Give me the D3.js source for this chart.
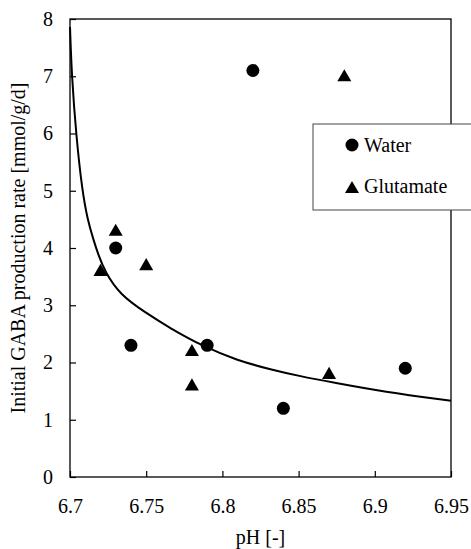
<!DOCTYPE html>
<html>
<head>
<meta charset="utf-8">
<script src="https://cdn.jsdelivr.net/npm/d3@7"></script>
</head>
<body style="margin:0">
<svg id="chart" width="471" height="549"></svg>
<script>
// ---- data ----
const waterPH   = [6.73, 6.74, 6.79, 6.82, 6.84, 6.92];
const waterRate = [4.0, 2.3, 2.3, 7.1, 1.2, 1.9];
const gluPH     = [6.72, 6.73, 6.75, 6.78, 6.78, 6.87, 6.88];
const gluRate   = [3.6, 4.3, 3.7, 2.2, 1.6, 1.8, 7.0];
const fitPH   = [6.7000, 6.7011, 6.7041, 6.7080, 6.7115, 6.7153, 6.7186, 6.7230, 6.7330, 6.7490, 6.7656, 6.7875, 6.8094, 6.8312, 6.8509, 6.8728, 6.9056, 6.9500];
const fitRate = [7.86, 7.02, 5.95, 5.00, 4.50, 4.15, 3.88, 3.58, 3.18, 2.88, 2.60, 2.28, 2.04, 1.88, 1.76, 1.65, 1.49, 1.33];
const xTicks = [6.7, 6.75, 6.8, 6.85, 6.9, 6.95];
const xTickLabels = ["6.7", "6.75", "6.8", "6.85", "6.9", "6.95"];
const yTicks = [0, 1, 2, 3, 4, 5, 6, 7, 8];
const legendLabels = ["Water", "Glutamate"];
const xTitle = "pH [-]";
const yTitle = "Initial GABA production rate [mmol/g/d]";

// ---- layout ----
const FONT = '"Liberation Serif"';
const L = 70, R = 451, T = 19, B = 477;
const svg = d3.select("#chart");
const x = d3.scaleLinear().domain([6.7, 6.95]).range([L, R]);
const y = d3.scaleLinear().domain([0, 8]).range([B, T]);

// frame
svg.append("rect").attr("x", L).attr("y", T).attr("width", R - L).attr("height", B - T)
  .attr("fill", "none").attr("stroke", "#000").attr("stroke-width", 1.3);

// axes (ticks inward)
const xAxis = d3.axisBottom(x).tickValues(xTicks).tickSize(-6).tickPadding(22)
  .tickFormat((d, i) => xTickLabels[i]);
const gx = svg.append("g").attr("transform", `translate(0,${B})`).call(xAxis)
  .attr("font-family", null).attr("font-size", null);
gx.select(".domain").remove();
gx.selectAll(".tick line").attr("stroke", "#000").attr("stroke-width", 1.2);
gx.selectAll("text").style("font-family", FONT).attr("font-size", 20).attr("fill", "#000");

const yAxis = d3.axisLeft(y).tickValues(yTicks).tickSize(-6).tickPadding(17);
const gy = svg.append("g").attr("transform", `translate(${L},0)`).call(yAxis)
  .attr("font-family", null).attr("font-size", null);
gy.select(".domain").remove();
gy.selectAll(".tick line").attr("stroke", "#000").attr("stroke-width", 1.2);
gy.selectAll("text").style("font-family", FONT).attr("font-size", 20).attr("fill", "#000");

// titles
svg.append("text").attr("x", (L + R) / 2).attr("y", 544).attr("text-anchor", "middle")
  .style("font-family", FONT).attr("font-size", 20).text(xTitle);
svg.append("text").attr("transform", `translate(25,${(T + B) / 2}) rotate(-90)`)
  .attr("text-anchor", "middle").style("font-family", FONT).attr("font-size", 20).text(yTitle);

// fitted curve
const line = d3.line().x(d => x(d[0])).y(d => y(d[1])).curve(d3.curveBasis);
svg.append("path").datum(fitPH.map((p, i) => [p, fitRate[i]]))
  .attr("d", line).attr("fill", "none").attr("stroke", "#000").attr("stroke-width", 2);

// markers
const tri = d3.symbol().type(d3.symbolTriangle).size(85);
svg.append("g").selectAll("circle").data(waterPH.map((p, i) => [p, waterRate[i]])).join("circle")
  .attr("cx", d => x(d[0])).attr("cy", d => y(d[1])).attr("r", 6.5).attr("fill", "#000");
svg.append("g").selectAll("path").data(gluPH.map((p, i) => [p, gluRate[i]])).join("path")
  .attr("d", tri).attr("transform", d => `translate(${x(d[0])},${y(d[1]) + 1})`).attr("fill", "#000");

// legend
const lg = svg.append("g");
lg.append("rect").attr("x", 313).attr("y", 124).attr("width", 165).attr("height", 86)
  .attr("fill", "#fff").attr("stroke", "#444").attr("stroke-width", 1);
lg.append("circle").attr("cx", 352).attr("cy", 145).attr("r", 6.5).attr("fill", "#000");
lg.append("text").attr("x", 364).attr("y", 152).style("font-family", FONT).attr("font-size", 20).text(legendLabels[0]);
lg.append("path").attr("d", tri).attr("transform", "translate(352,189)").attr("fill", "#000");
lg.append("text").attr("x", 364).attr("y", 193).style("font-family", FONT).attr("font-size", 20).text(legendLabels[1]);

svg.selectAll("text").each(function () { this.getComputedTextLength(); });
</script>
</body>
</html>
